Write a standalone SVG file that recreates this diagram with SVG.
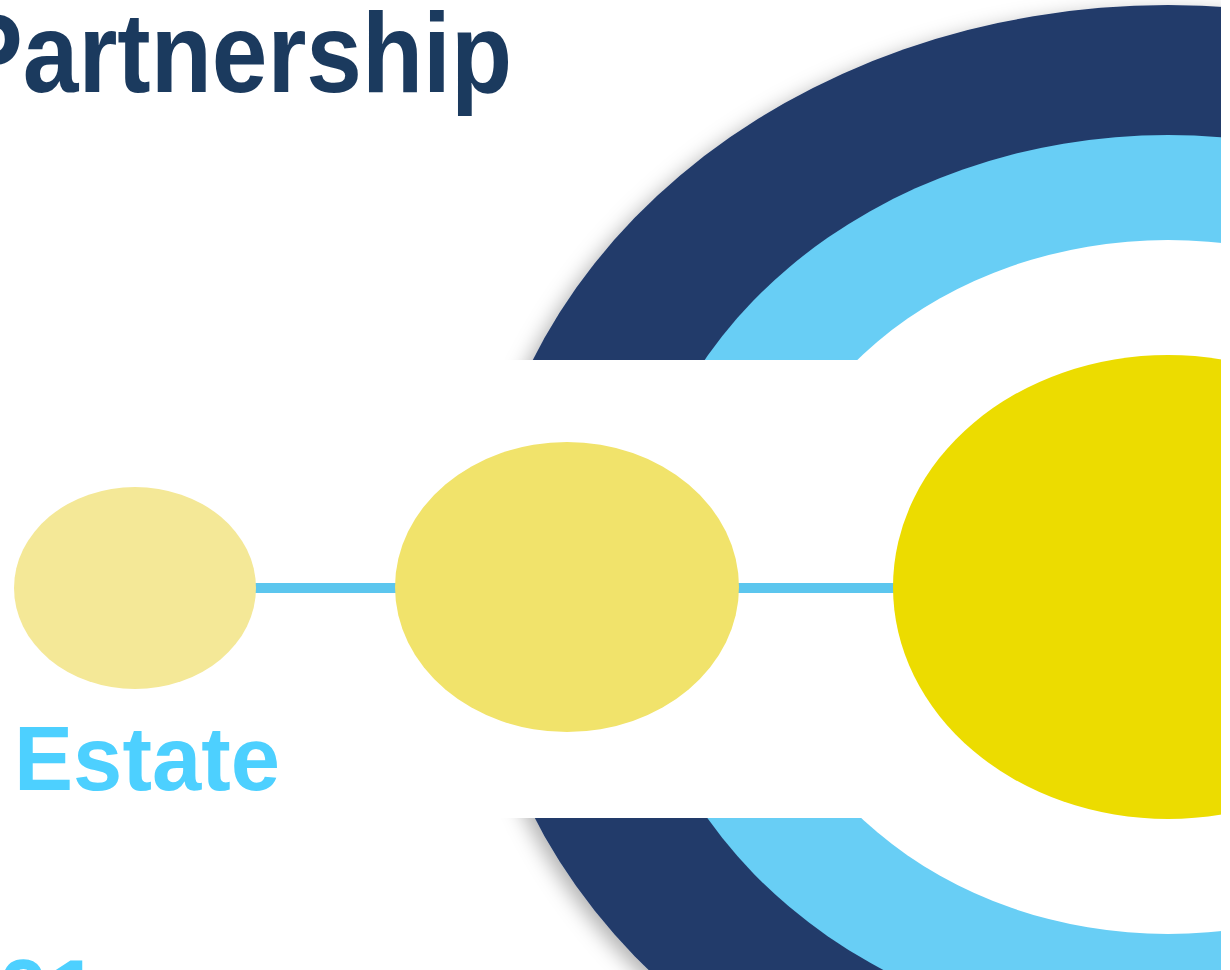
<svg xmlns="http://www.w3.org/2000/svg" width="1230" height="970" viewBox="0 0 1230 970">
  <defs>
    <filter id="ringShadow" x="-20%" y="-20%" width="140%" height="140%">
      <feDropShadow dx="-6" dy="6" stdDeviation="10" flood-color="#000" flood-opacity="0.3"/>
    </filter>
    <style>
      .title { font-family: "Liberation Sans", Arial, sans-serif; font-weight: bold; fill: #1b3a5e; }
      .label { font-family: "Liberation Sans", Arial, sans-serif; font-weight: bold; fill: #4dd0ff; }
      .link { stroke: #5cc6ee; stroke-width: 10; fill: none; }
    </style>
  </defs>

  <rect width="1230" height="970" fill="#ffffff"/>

  <!-- concentric rings behind the timeline -->
  <g id="rings">
    <ellipse cx="1168" cy="587" rx="690" ry="582" fill="#213a6b" filter="url(#ringShadow)"/>
    <ellipse cx="1168" cy="587" rx="536" ry="452" fill="#68cef5"/>
    <ellipse cx="1168" cy="587" rx="411" ry="347" fill="#ffffff"/>
  </g>

  <!-- white band cutting through the rings -->
  <rect id="band" x="0" y="360" width="1168" height="458" fill="#ffffff"/>

  <!-- connectors between the stages -->
  <g id="connectors">
    <line class="link" x1="250" y1="588" x2="400" y2="588"/>
    <line class="link" x1="734" y1="588" x2="898" y2="588"/>
  </g>

  <g id="stage-small">
    <ellipse cx="135" cy="588" rx="121" ry="101" fill="#f4e897"/>
  </g>
  <g id="stage-medium">
    <ellipse cx="567" cy="587" rx="172" ry="145" fill="#f1e36b"/>
  </g>
  <g id="stage-large">
    <ellipse cx="1168" cy="587" rx="275" ry="232" fill="#ecdc00"/>
  </g>

  <!-- right margin -->
  <rect x="1221" y="0" width="9" height="970" fill="#ffffff"/>

  <g id="title">
    <text class="title" x="-44" y="92" font-size="114" textLength="556" lengthAdjust="spacingAndGlyphs">Partnership</text>
  </g>
  <g id="label-estate">
    <text class="label" x="14" y="790" font-size="91" textLength="266" lengthAdjust="spacingAndGlyphs">Estate</text>
  </g>
  <g id="label-number">
    <text class="label" x="-2" y="1023" font-size="91">01</text>
  </g>
</svg>
